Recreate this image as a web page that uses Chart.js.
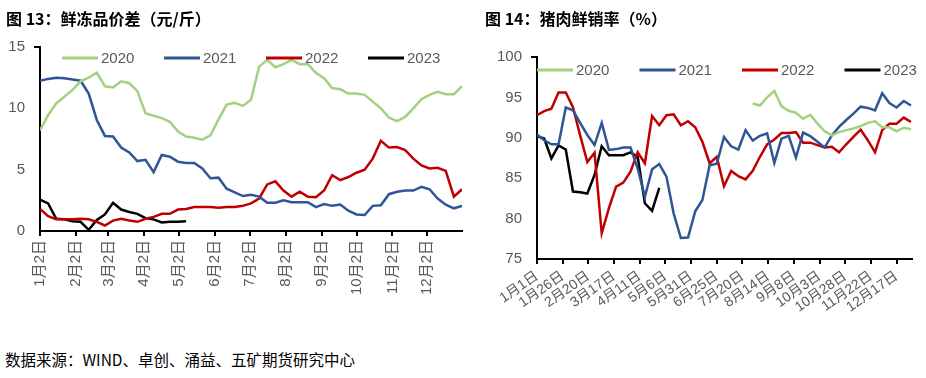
<!DOCTYPE html>
<html>
<head>
<meta charset="utf-8">
<script src="https://cdn.jsdelivr.net/npm/chart.js@4.4.0/dist/chart.umd.min.js"></script>
<style>
  body { margin: 0; background: #fff; }
  #wrap { position: relative; width: 926px; height: 378px; overflow: hidden; }
  canvas { position: absolute; top: 0; }
  .title { position: absolute; top: 6px; font: bold 16px "Noto Sans CJK SC", sans-serif; color: #000; z-index: 2; }
  .foot { position: absolute; left: 5px; top: 348px; font: 15.5px "Noto Sans CJK SC", sans-serif; color: #000; }
</style>
</head>
<body>
<div id="wrap">
  <div class="title" style="left:6px">图 13：鲜冻品价差（元/斤）</div>
  <div class="title" style="left:485px">图 14：猪肉鲜销率（%）</div>
  <canvas id="priceChart" width="470" height="340" style="left:0"></canvas>
  <canvas id="rateChart" width="456" height="340" style="left:470px"></canvas>
  <div class="foot">数据来源：WIND、卓创、涌益、五矿期货研究中心</div>
</div>
<script>
// series names and colours
const years = ['2020', '2021', '2022', '2023'];
const colors = ['#a3d17f', '#2f5597', '#c00000', '#000000'];

// fig 13: weekly spread, first point on 1月2日 (day 1), one point per week
const priceStartDay = 1;
const price2020 = [8.2, 9.45, 10.4, 10.95, 11.5, 12.2, 12.5, 12.9, 11.8, 11.7, 12.2, 12.05, 11.4, 9.6, 9.4, 9.2, 8.9, 8.1, 7.7, 7.6, 7.45, 7.8, 9.1, 10.3, 10.45, 10.2, 10.7, 13.4, 13.95, 13.35, 13.6, 13.95, 13.6, 13.6, 12.9, 12.45, 11.65, 11.55, 11.2, 11.2, 11.1, 10.55, 10.0, 9.25, 8.95, 9.3, 10.0, 10.75, 11.1, 11.35, 11.15, 11.15, 11.8];
const price2021 = [12.25, 12.4, 12.5, 12.45, 12.35, 12.25, 11.2, 9.05, 7.75, 7.7, 6.8, 6.4, 5.7, 5.8, 4.8, 6.2, 6.05, 5.65, 5.55, 5.55, 5.1, 4.3, 4.35, 3.45, 3.15, 2.85, 2.95, 2.8, 2.3, 2.3, 2.5, 2.35, 2.35, 2.35, 1.95, 2.2, 2.05, 2.15, 1.65, 1.35, 1.3, 2.05, 2.1, 3.0, 3.2, 3.3, 3.3, 3.6, 3.4, 2.65, 2.15, 1.85, 2.05];
const price2022 = [1.8, 1.2, 0.95, 0.95, 0.95, 1.0, 0.95, 0.75, 0.45, 0.85, 1.0, 0.85, 0.75, 1.0, 1.15, 1.4, 1.4, 1.75, 1.8, 1.95, 1.95, 1.95, 1.9, 1.95, 1.95, 2.05, 2.25, 2.65, 3.8, 4.05, 3.3, 2.8, 3.2, 2.8, 2.75, 3.3, 4.55, 4.15, 4.4, 4.75, 5.0, 5.9, 7.35, 6.8, 6.85, 6.6, 5.9, 5.35, 5.1, 5.15, 4.9, 2.8, 3.4];
const price2023 = [2.55, 2.25, 1.0, 0.95, 0.8, 0.75, 0.1, 0.9, 1.35, 2.3, 1.75, 1.55, 1.4, 1.05, 0.95, 0.7, 0.75, 0.75, 0.8];
const priceTickDays = [1, 32, 60, 91, 121, 152, 182, 213, 244, 274, 305, 335];
const priceTickLabels = ['1月2日', '2月2日', '3月2日', '4月2日', '5月2日', '6月2日', '7月2日', '8月2日', '9月2日', '10月2日', '11月2日', '12月2日'];

// fig 14: weekly fresh-sale rate, first point on 1月1日 (day 0)
const rate2020Start = 30; // 2020 series begins at week 30
const rate2020 = [94.25, 94.0, 95.0, 95.8, 93.9, 93.35, 93.1, 92.35, 92.85, 91.75, 90.8, 90.3, 90.7, 90.95, 91.15, 91.45, 91.85, 92.05, 91.3, 91.3, 90.8, 91.25, 91.05];
const rate2021 = [90.4, 89.7, 89.2, 89.2, 93.75, 93.4, 91.85, 90.35, 89.1, 91.85, 88.5, 88.6, 88.8, 88.8, 86.2, 82.7, 86.1, 86.75, 85.2, 80.65, 77.6, 77.65, 80.9, 82.3, 86.6, 86.8, 90.1, 88.95, 88.55, 90.95, 89.65, 90.25, 90.55, 86.9, 89.9, 90.25, 87.55, 90.65, 90.2, 89.5, 88.8, 90.3, 91.35, 92.2, 93.0, 93.85, 93.7, 93.4, 95.5, 94.3, 93.75, 94.55, 94.0];
const rate2022 = [92.8, 93.3, 93.6, 95.6, 95.6, 93.8, 90.3, 87.0, 88.15, 78.2, 81.3, 83.95, 84.45, 85.8, 88.2, 86.85, 92.7, 91.55, 92.8, 92.9, 91.55, 92.05, 91.3, 89.5, 86.85, 87.65, 84.0, 85.9, 85.25, 84.85, 85.9, 87.65, 89.2, 89.8, 90.6, 90.6, 90.7, 89.4, 89.4, 89.1, 88.8, 88.9, 88.2, 89.2, 90.1, 91.0, 89.7, 88.2, 90.95, 91.75, 91.75, 92.5, 91.95];
const rate2023 = [90.2, 89.9, 87.45, 89.05, 88.55, 83.35, 83.25, 83.1, 85.4, 88.95, 87.85, 87.85, 87.85, 88.2, 87.65, 81.9, 80.95, 83.8];
const rateTickDays = [0, 25, 50, 75, 100, 125, 150, 175, 200, 225, 250, 275, 300, 325, 350];
const rateTickLabels = ['1月1日', '1月26日', '2月20日', '3月17日', '4月11日', '5月6日', '5月31日', '6月25日', '7月20日', '8月14日', '9月8日', '10月3日', '10月28日', '11月22日', '12月17日'];

const gray = '#595959';
const tickFont = { family: '"Liberation Sans", "Noto Sans CJK SC", sans-serif', size: 15 };

// weekly values -> {x: day, y}
function toPoints(values, startDay, startWeek) {
  return values.map((v, i) => ({ x: startDay + 7 * (startWeek + i), y: v }));
}

function makeDatasets(seriesList) {
  return seriesList.map((pts, k) => ({
    label: years[k],
    data: pts,
    borderColor: colors[k],
    backgroundColor: colors[k],
    borderWidth: 2.5,
    pointRadius: 0,
    tension: 0,
    fill: false
  }));
}

// legend drawn inside the plot, like the original
function inlineLegend(id, x0, step, y) {
  return {
    id: id,
    afterDraw(chart) {
      const ctx = chart.ctx;
      ctx.save();
      ctx.font = '15px "Liberation Sans", sans-serif';
      ctx.textBaseline = 'middle';
      chart.data.datasets.forEach((ds, i) => {
        const x = x0 + i * step;
        ctx.strokeStyle = ds.borderColor;
        ctx.lineWidth = 3;
        ctx.beginPath();
        ctx.moveTo(x, y);
        ctx.lineTo(x + 36, y);
        ctx.stroke();
        ctx.fillStyle = gray;
        ctx.fillText(ds.label, x + 39, y + 1);
      });
      ctx.restore();
    }
  };
}

function makeOptions(cfg) {
  return {
    responsive: false,
    animation: false,
    layout: { padding: { top: cfg.top, right: cfg.right, left: 0, bottom: 0 } },
    plugins: { legend: { display: false }, tooltip: { enabled: false } },
    scales: {
      x: {
        type: 'linear',
        min: cfg.xMin,
        max: cfg.xMax,
        afterBuildTicks: (scale) => { scale.ticks = cfg.tickDays.map(v => ({ value: v })); },
        afterFit: (scale) => { scale.height = cfg.xHeight; },
        ticks: {
          autoSkip: false,
          minRotation: cfg.rotation,
          maxRotation: cfg.rotation,
          padding: 4,
          color: gray,
          font: { family: tickFont.family, size: cfg.xFontSize },
          callback: (value) => cfg.tickLabels[cfg.tickDays.indexOf(value)]
        },
        grid: { drawOnChartArea: false, color: '#000', lineWidth: 2, tickLength: 5 },
        border: { display: true, color: '#000', width: 2 }
      },
      y: {
        min: cfg.yMin,
        max: cfg.yMax,
        afterFit: (scale) => { scale.width = cfg.yWidth; },
        ticks: { stepSize: 5, color: gray, font: tickFont, padding: 9 },
        grid: {
          drawOnChartArea: false,
          tickLength: 6,
          lineWidth: 2,
          color: (c) => (c.tick && c.tick.value === cfg.yMax ? '#000' : 'rgba(0,0,0,0)')
        },
        border: { display: true, color: '#000', width: 2 }
      }
    }
  };
}

new Chart(document.getElementById('priceChart'), {
  type: 'line',
  data: {
    datasets: makeDatasets([
      toPoints(price2020, priceStartDay, 0),
      toPoints(price2021, priceStartDay, 0),
      toPoints(price2022, priceStartDay, 0),
      toPoints(price2023, priceStartDay, 0)
    ])
  },
  options: makeOptions({
    top: 47, right: 8, yWidth: 40, xHeight: 109,
    xMin: 1, xMax: 365, yMin: 0, yMax: 15,
    tickDays: priceTickDays, tickLabels: priceTickLabels,
    rotation: 90, xFontSize: 15
  }),
  plugins: [inlineLegend('legend13', 62, 102, 58)]
});

new Chart(document.getElementById('rateChart'), {
  type: 'line',
  data: {
    datasets: makeDatasets([
      toPoints(rate2020, 0, rate2020Start),
      toPoints(rate2021, 0, 0),
      toPoints(rate2022, 0, 0),
      toPoints(rate2023, 0, 0)
    ])
  },
  options: makeOptions({
    top: 57, right: 14, yWidth: 67, xHeight: 81,
    xMin: 0, xMax: 365, yMin: 75, yMax: 100,
    tickDays: rateTickDays, tickLabels: rateTickLabels,
    rotation: 35, xFontSize: 14
  }),
  plugins: [inlineLegend('legend14', 67, 102.5, 70)]
});
</script>
</body>
</html>
